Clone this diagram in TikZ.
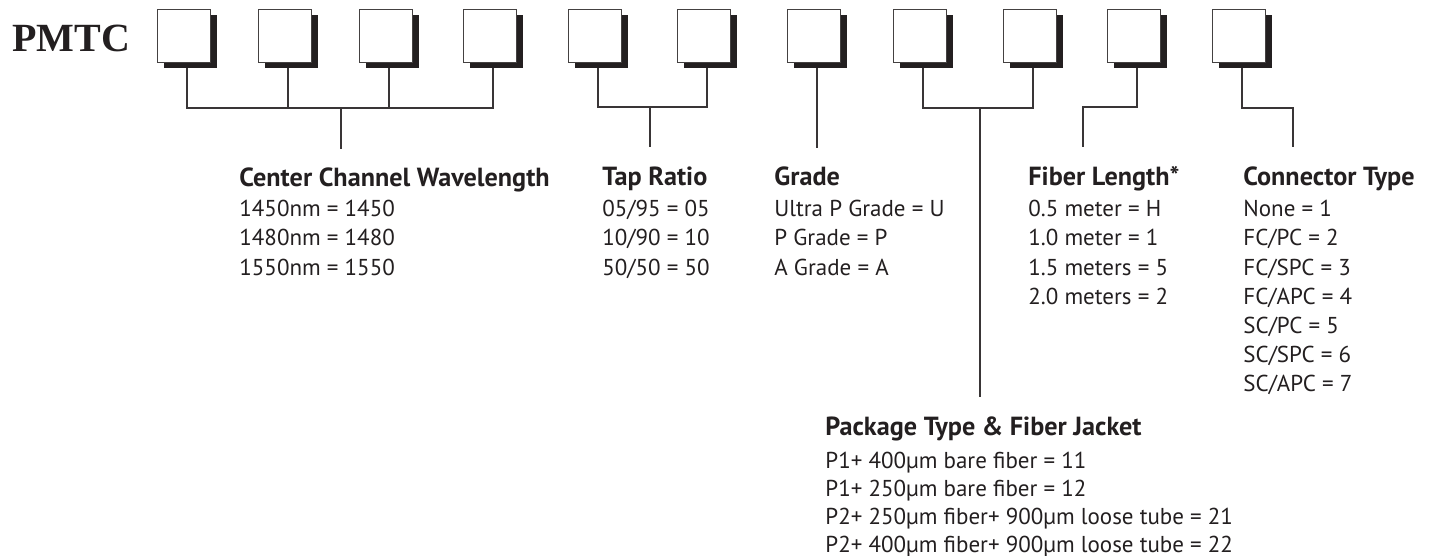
\documentclass[tikz,border=0pt]{standalone}
\usepackage{fontspec}
\setmainfont{PT Sans}
\newfontfamily\pmtcfont{Liberation Serif}
\usetikzlibrary{shadows}
\definecolor{ink}{RGB}{35,31,32}
\begin{document}
\begin{tikzpicture}[x=0.5pt,y=-0.5pt,
  codebox/.style={draw=ink!85, line width=0.8pt, fill=white, minimum size=26.5pt, inner sep=0pt, outer sep=0pt,
    drop shadow={shadow xshift=3pt, shadow yshift=-3pt, fill=ink, opacity=1}},
  wire/.style={draw=ink!90, line width=0.6pt},
  head/.style={anchor=base west, inner sep=0pt, font=\fontsize{13.1}{15}\selectfont\bfseries, text=ink},
  item/.style={anchor=base west, inner sep=0pt, font=\fontsize{11.5}{14}\selectfont, text=ink}]
\useasboundingbox (0,0) rectangle (1442,556);
\node[anchor=base west, inner sep=0pt, font=\pmtcfont\fontsize{20}{24}\selectfont\bfseries, text=ink] (pmtc) at (12,52) {PMTC};
\foreach \n/\l in {1/157,2/258,3/359,4/463,5/568,6/677,7/787,8/893,9/1003,10/1107,11/1212}
  \node[codebox] (b\n) at (\l+27,36) {};
\foreach \n in {1,...,11}
  \coordinate (p\n) at ([xshift=1.5pt,yshift=-3pt]b\n.south);
% group 1
\coordinate (j1) at (341,108); \coordinate (e1) at (341,149);
\draw[wire] (p1) |- (p4|-j1) -- (p4);
\draw[wire] (p2) -- (p2|-j1);
\draw[wire] (p3) -- (p3|-j1);
\draw[wire] (j1) -- (e1);
% group 2
\coordinate (j2) at (650,107); \coordinate (e2) at (650,147);
\draw[wire] (p5) |- (p6|-j2) -- (p6);
\draw[wire] (j2) -- (e2);
% box 7
\coordinate (e7) at (817,148);
\draw[wire] (p7) -- (p7|-e7);
% group 3
\coordinate (j3) at (980,108); \coordinate (e3) at (980,397);
\draw[wire] (p8) |- (p9|-j3) -- (p9);
\draw[wire] (j3) -- (e3);
% box 10
\coordinate (k10) at (1083,107); \coordinate (e10) at (1083,147);
\draw[wire] (p10) |- (k10) -- (e10);
% box 11
\coordinate (k11) at (1293,108); \coordinate (e11) at (1293,147);
\draw[wire] (p11) |- (k11) -- (e11);
% texts
\node[head] (cwh) at (239,187) {Center Channel Wavelength};
\foreach \t [count=\i] in {1450nm = 1450, 1480nm = 1480, 1550nm = 1550}
  \node[item] (cw\i) at (239,188+29*\i) {\t};
\node[head] (trh) at (602,186) {Tap Ratio};
\foreach \t [count=\i] in {05/95 = 05, 10/90 = 10, 50/50 = 50}
  \node[item] (tr\i) at (602,188+29*\i) {\t};
\node[head] (grh) at (774,186) {Grade};
\foreach \t [count=\i] in {Ultra P Grade = U, P Grade = P, A Grade = A}
  \node[item] (gr\i) at (774,188+29*\i) {\t};
\node[head] (flh) at (1028,186) {Fiber Length*};
\foreach \t [count=\i] in {0.5 meter = H, 1.0 meter = 1, 1.5 meters = 5, 2.0 meters = 2}
  \node[item] (fl\i) at (1028,188+29*\i) {\t};
\node[head] (cth) at (1243,186) {Connector Type};
\foreach \t [count=\i] in {None = 1, FC/PC = 2, FC/SPC = 3, FC/APC = 4, SC/PC = 5, SC/SPC = 6, SC/APC = 7}
  \node[item] (ct\i) at (1243,188+29*\i) {\t};
\node[head] (pkh) at (825,435) {Package Type \& Fiber Jacket};
\foreach \t [count=\i] in {P1+ 400µm bare fiber = 11, P1+ 250µm bare fiber = 12, P2+ 250µm fiber+ 900µm loose tube = 21, P2+ 400µm fiber+ 900µm loose tube = 22}
  \node[item] (pk\i) at (825,440+28*\i) {\t};
\end{tikzpicture}
\end{document}
